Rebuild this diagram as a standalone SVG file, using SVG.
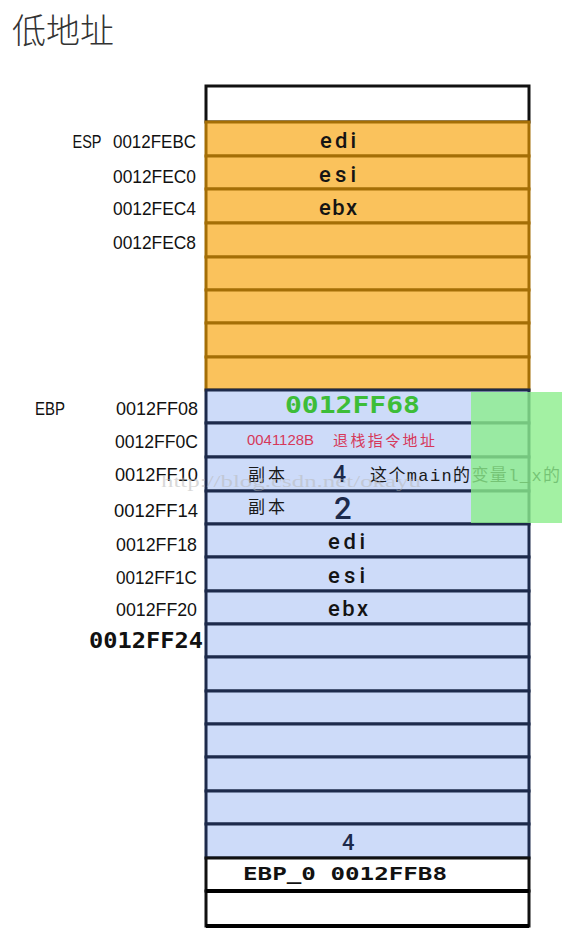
<svg xmlns="http://www.w3.org/2000/svg" width="562" height="945" viewBox="0 0 562 945">
<style>
.bg{fill:#ffffff}
.w{fill:#ffffff;stroke:#111111;stroke-width:3}
.o{fill:#FAC25C;stroke:#A46E06;stroke-width:3}
.b{fill:#CDDBF9;stroke:#1D2A4B;stroke-width:3}
.addr{font-family:"Liberation Sans",Arial,sans-serif;font-size:19px;fill:#111111}
.reg{font-family:Roboto,"Liberation Sans",Arial,sans-serif;font-size:22px;font-weight:500;fill:#141414}
.mono{font-family:"DejaVu Sans Mono","Liberation Mono",monospace;font-weight:bold}
.cjk{font-family:"Noto Sans CJK SC","Noto Sans CJK TC",sans-serif}
.num{font-family:Roboto,"Liberation Sans",Arial,sans-serif;font-weight:500;fill:#1D2A4B}
</style>
<rect class="bg" x="0" y="0" width="562" height="945"/>

<g id="title">
<text class="cjk" x="12" y="43" font-size="34" fill="#333333" font-weight="300">低地址</text>
</g>

<g id="cell-top"><rect class="w" x="206" y="86" width="323" height="36"/></g>

<g id="cell-0012FEBC">
<rect class="o" x="206" y="122" width="323" height="34"/>
<text class="reg" x="320" y="148" textLength="36">edi</text>
<text class="addr" x="72.5" y="148" textLength="29" lengthAdjust="spacingAndGlyphs">ESP</text>
<text class="addr" x="196" y="148" text-anchor="end" textLength="83" lengthAdjust="spacingAndGlyphs">0012FEBC</text>
</g>
<g id="cell-0012FEC0">
<rect class="o" x="206" y="156" width="323" height="33"/>
<text class="reg" x="319" y="182" textLength="37">esi</text>
<text class="addr" x="196" y="182.5" text-anchor="end" textLength="83" lengthAdjust="spacingAndGlyphs">0012FEC0</text>
</g>
<g id="cell-0012FEC4">
<rect class="o" x="206" y="189" width="323" height="34"/>
<text class="reg" x="319" y="215" textLength="38">ebx</text>
<text class="addr" x="196" y="215" text-anchor="end" textLength="83" lengthAdjust="spacingAndGlyphs">0012FEC4</text>
</g>
<g id="cell-0012FEC8">
<rect class="o" x="206" y="223" width="323" height="34"/>
<text class="addr" x="196" y="249" text-anchor="end" textLength="83" lengthAdjust="spacingAndGlyphs">0012FEC8</text>
</g>
<g id="cell-o5"><rect class="o" x="206" y="257" width="323" height="33"/></g>
<g id="cell-o6"><rect class="o" x="206" y="290" width="323" height="33"/></g>
<g id="cell-o7"><rect class="o" x="206" y="323" width="323" height="34"/></g>
<g id="cell-o8"><rect class="o" x="206" y="357" width="323" height="33"/></g>

<g id="cell-0012FF08">
<rect class="b" x="206" y="390" width="323" height="33"/>
<text class="mono" x="285" y="413" font-size="23" fill="#3DBD38" textLength="135" lengthAdjust="spacingAndGlyphs">0012FF68</text>
<text class="addr" x="35" y="415" textLength="30" lengthAdjust="spacingAndGlyphs">EBP</text>
<text class="addr" x="198" y="415" text-anchor="end" textLength="82" lengthAdjust="spacingAndGlyphs">0012FF08</text>
</g>
<g id="cell-0012FF0C">
<rect class="b" x="206" y="423" width="323" height="34"/>
<text x="247" y="445" font-family="Liberation Sans,Arial,sans-serif" font-size="14" fill="#D6385A" textLength="67" lengthAdjust="spacingAndGlyphs">0041128B</text>
<text class="cjk" x="333" y="446" font-size="15" fill="#D6385A" textLength="102">退栈指令地址</text>
<text class="addr" x="198" y="448" text-anchor="end" textLength="83" lengthAdjust="spacingAndGlyphs">0012FF0C</text>
</g>
<g id="cell-0012FF10">
<rect class="b" x="206" y="457" width="323" height="34"/>
<text class="cjk" x="248" y="481" font-size="17" fill="#1a1a1a" textLength="37">副本</text>
<text class="num" x="333" y="482" font-size="23">4</text>
<text x="370" y="481" font-family="Liberation Mono,Noto Sans CJK SC,monospace" font-size="17" fill="#1a1a1a" textLength="190">这个main的变量l_x的</text>
<text class="addr" x="198" y="481" text-anchor="end" textLength="83" lengthAdjust="spacingAndGlyphs">0012FF10</text>
</g>
<g id="cell-0012FF14">
<rect class="b" x="206" y="491" width="323" height="33"/>
<text class="cjk" x="248" y="513" font-size="17" fill="#1a1a1a" textLength="37">副本</text>
<text class="num" x="334" y="519" font-size="31">2</text>
<text class="addr" x="198" y="517" text-anchor="end" textLength="84" lengthAdjust="spacingAndGlyphs">0012FF14</text>
</g>
<g id="cell-0012FF18">
<rect class="b" x="206" y="524" width="323" height="33"/>
<text class="reg" x="328" y="548.5" textLength="37">edi</text>
<text class="addr" x="197" y="551" text-anchor="end" textLength="81" lengthAdjust="spacingAndGlyphs">0012FF18</text>
</g>
<g id="cell-0012FF1C">
<rect class="b" x="206" y="557" width="323" height="34"/>
<text class="reg" x="328" y="583" textLength="37">esi</text>
<text class="addr" x="197" y="583.5" text-anchor="end" textLength="81" lengthAdjust="spacingAndGlyphs">0012FF1C</text>
</g>
<g id="cell-0012FF20">
<rect class="b" x="206" y="591" width="323" height="33"/>
<text class="reg" x="328" y="615.5" textLength="40">ebx</text>
<text class="addr" x="197" y="615.5" text-anchor="end" textLength="81" lengthAdjust="spacingAndGlyphs">0012FF20</text>
</g>
<g id="cell-0012FF24">
<rect class="b" x="206" y="624" width="323" height="33"/>
<text class="mono" x="203" y="648" text-anchor="end" font-size="21" fill="#111111" textLength="114" lengthAdjust="spacingAndGlyphs">0012FF24</text>
</g>
<g id="cell-b9"><rect class="b" x="206" y="657" width="323" height="34"/></g>
<g id="cell-b10"><rect class="b" x="206" y="691" width="323" height="33"/></g>
<g id="cell-b11"><rect class="b" x="206" y="724" width="323" height="33"/></g>
<g id="cell-b12"><rect class="b" x="206" y="757" width="323" height="34"/></g>
<g id="cell-b13"><rect class="b" x="206" y="791" width="323" height="33"/></g>
<g id="cell-b14">
<rect class="b" x="206" y="824" width="323" height="34"/>
<text class="num" x="342" y="849.5" font-size="22">4</text>
</g>
<g id="cell-ebp0">
<rect class="w" x="206" y="858" width="323" height="33"/>
<text class="mono" x="243" y="880" font-size="18" fill="#111111" textLength="204" lengthAdjust="spacingAndGlyphs">EBP_0 0012FFB8</text>
</g>
<g id="cell-bottom">
<rect class="w" x="206" y="891" width="323" height="35"/>
<line x1="206" y1="891" x2="529" y2="891" stroke="#000000" stroke-width="4"/>
<line x1="206" y1="926" x2="529" y2="926" stroke="#000000" stroke-width="4"/>
</g>

<g id="watermark">
<text x="161" y="487" font-family="Liberation Serif,serif" font-size="17" fill="#B8B8B8" fill-opacity="0.55" textLength="260" lengthAdjust="spacingAndGlyphs">http://blog.csdn.net/okayu</text>
</g>

<g id="highlight">
<rect x="471" y="392" width="91" height="131" fill="#8CEE8C" fill-opacity="0.8"/>
</g>
</svg>
